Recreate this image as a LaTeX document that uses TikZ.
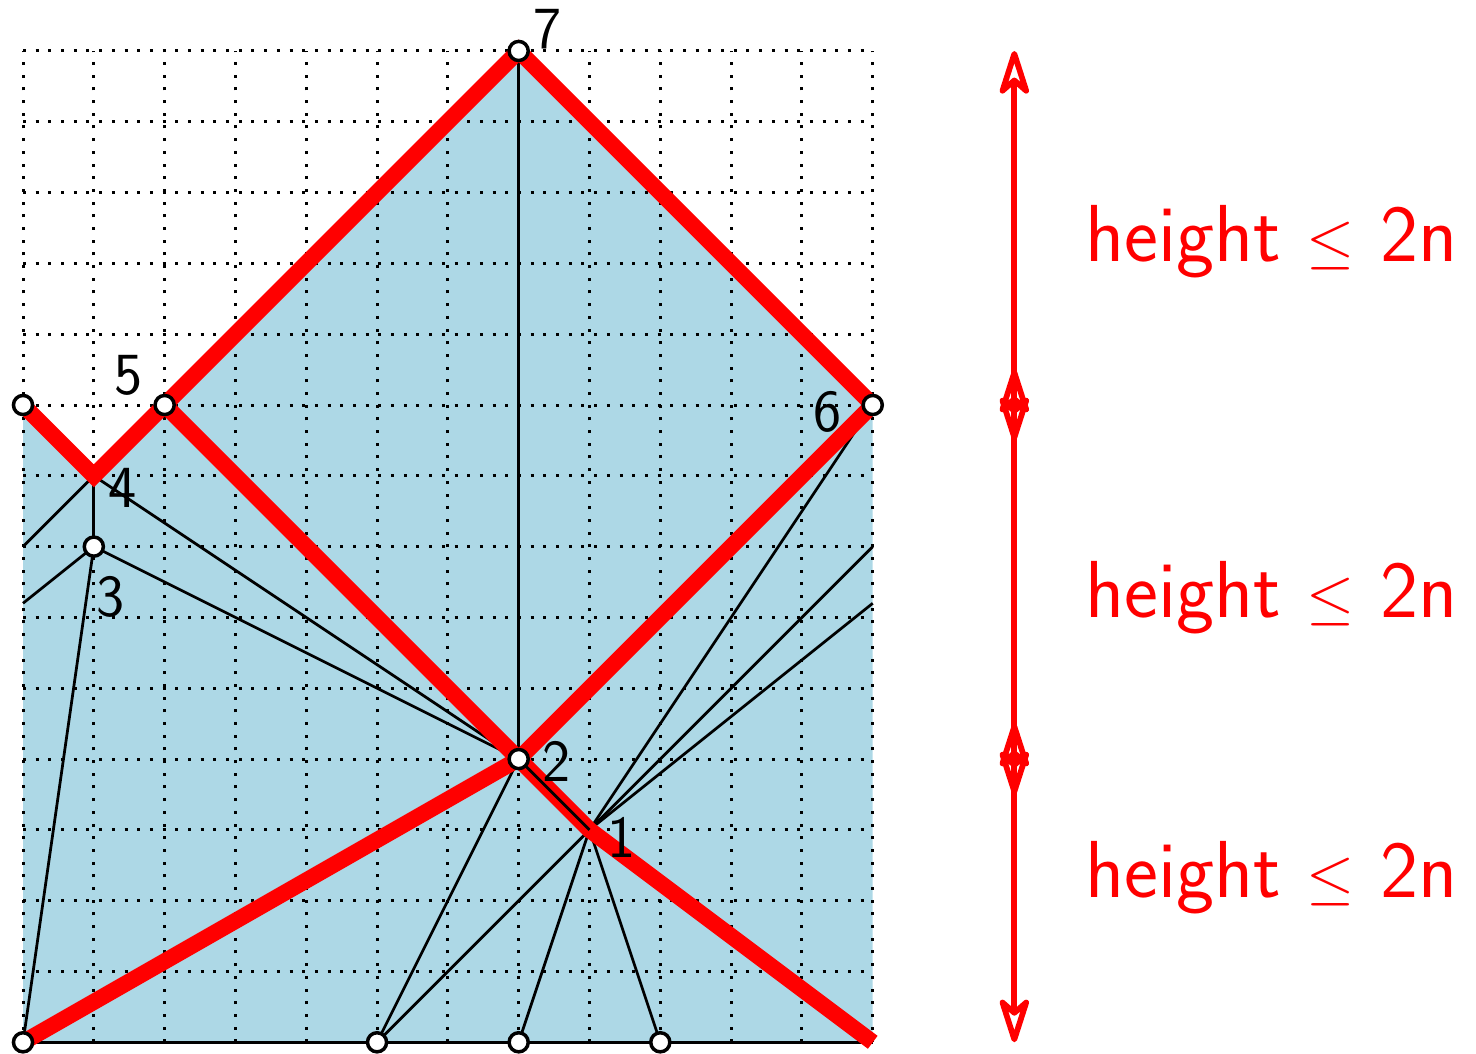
\documentclass[tikz,border=0pt]{standalone}
\usepackage{xcolor}
\usepackage{tikz}
\usetikzlibrary{positioning,arrows.meta}
\definecolor{PathRed}{RGB}{255,0,0}
\definecolor{FillBlue}{RGB}{173,216,230}

\begin{document}
\begin{tikzpicture}[
  grid/.style={line width=1.2pt, dash pattern=on 1.2pt off 3.9pt, color=black},
  edge/.style={line width=1.1pt, color=black},
  redpath/.style={line width=6.5pt, color=PathRed},
  pt/.style={circle, draw=black, fill=white, line width=1.4pt, minimum size=0.27cm, inner sep=0pt},
  num/.style={font=\sffamily\fontsize{24}{28}\selectfont, inner sep=0pt},
  hlabel/.style={font=\sffamily\fontsize{32.5}{38}\selectfont, text=PathRed, anchor=west, inner sep=0pt},
  span/.style={<->, >={Stealth[open,round,length=22pt,width=14pt,inset=6pt]}, line width=2.3pt, color=PathRed}
]
\useasboundingbox (-0.325,-0.155) rectangle (20.52,14.72);

% vertices
\coordinate (p1) at (8,3);
\coordinate (p2) at (7,4);
\coordinate (p3) at (1,7);
\coordinate (p4) at (1,8);
\coordinate (p5) at (2,9);
\coordinate (p6) at (12,9);
\coordinate (p7) at (7,14);
\coordinate (l9) at (0,9);
\coordinate (b0) at (0,0);
\coordinate (b5) at (5,0);
\coordinate (b7) at (7,0);
\coordinate (b9) at (9,0);
\coordinate (br) at (12,0);
% where the wrapped lines leave / enter
\coordinate (e7) at (12,7);
\coordinate (e62) at (12,6.2);
\coordinate (w7) at (0,7);
\coordinate (w62) at (0,6.2);

\fill[FillBlue] (b0) -- (br) -- (p6) -- (p7) -- (p5) -- (p4) -- (l9) -- cycle;

\foreach \x in {0,...,12}
  \draw[grid] (\x,0) -- (\x,14);
\foreach \y in {0,...,14}
  \draw[grid] (0,\y) -- (12,\y);
\draw[edge] (b0) -- (br);

% triangulation
\draw[edge] (p7) -- (p2);
\draw[edge] (p4) -- (p3);
\draw[edge] (p4) -- (p2);
\draw[edge] (p3) -- (p2);
\draw[edge] (p3) -- (b0);
\draw[edge] (w7) -- (p4);
\draw[edge] (w62) -- (p3);
\draw[edge] (p2) -- (b5);
\draw[edge] (p1) -- (b5);
\draw[edge] (p1) -- (b7);
\draw[edge] (p1) -- (b9);
\draw[edge] (p1) -- (p6);
\draw[edge] (p1) -- (e7);
\draw[edge] (p1) -- (e62);

% red paths
\draw[redpath] (l9) -- (p4) -- (p5) -- (p7) -- (p6);
\draw[redpath] (p5) -- (p2) -- (p1) -- (br);
\draw[redpath] (b0) -- (p2) -- (p6);
\draw[edge] (p2) -- (p1);

\node[pt] (c2) at (p2) {};
\node[pt] (c3) at (p3) {};
\node[pt] (c5) at (p5) {};
\node[pt] (c6) at (p6) {};
\node[pt] (c7) at (p7) {};
\node[pt] (c9) at (l9) {};
\node[pt] (cb0) at (b0) {};
\node[pt] (cb5) at (b5) {};
\node[pt] (cb7) at (b7) {};
\node[pt] (cb9) at (b9) {};

\node[num] (n1) at (8.45,2.89) {1};
\node[num] (n2) at (7.54,3.96) {2};
\node[num] (n3) at (1.24,6.29) {3};
\node[num] (n4) at (1.41,7.83) {4};
\node[num] (n5) at (1.49,9.42) {5};
\node[num] (n6) at (11.36,8.9) {6};
\node[num] (n7) at (7.41,14.31) {7};

% height arrows
\coordinate (s1a) at (14,14);
\coordinate (s1b) at (14,8.5);
\coordinate (s2a) at (14,9.5);
\coordinate (s2b) at (14,3.5);
\coordinate (s3a) at (14,4.5);
\coordinate (s3b) at (14,0);
\draw[span] (s1a) -- (s1b);
\draw[span] (s2a) -- (s2b);
\draw[span] (s3a) -- (s3b);

\node[hlabel] (h1) at (15.0,11.31) {height $\leq$ 2n};
\node[hlabel] (h2) at (15.0,6.28) {height $\leq$ 2n};
\node[hlabel] (h3) at (15.0,2.33) {height $\leq$ 2n};
\end{tikzpicture}
\end{document}
